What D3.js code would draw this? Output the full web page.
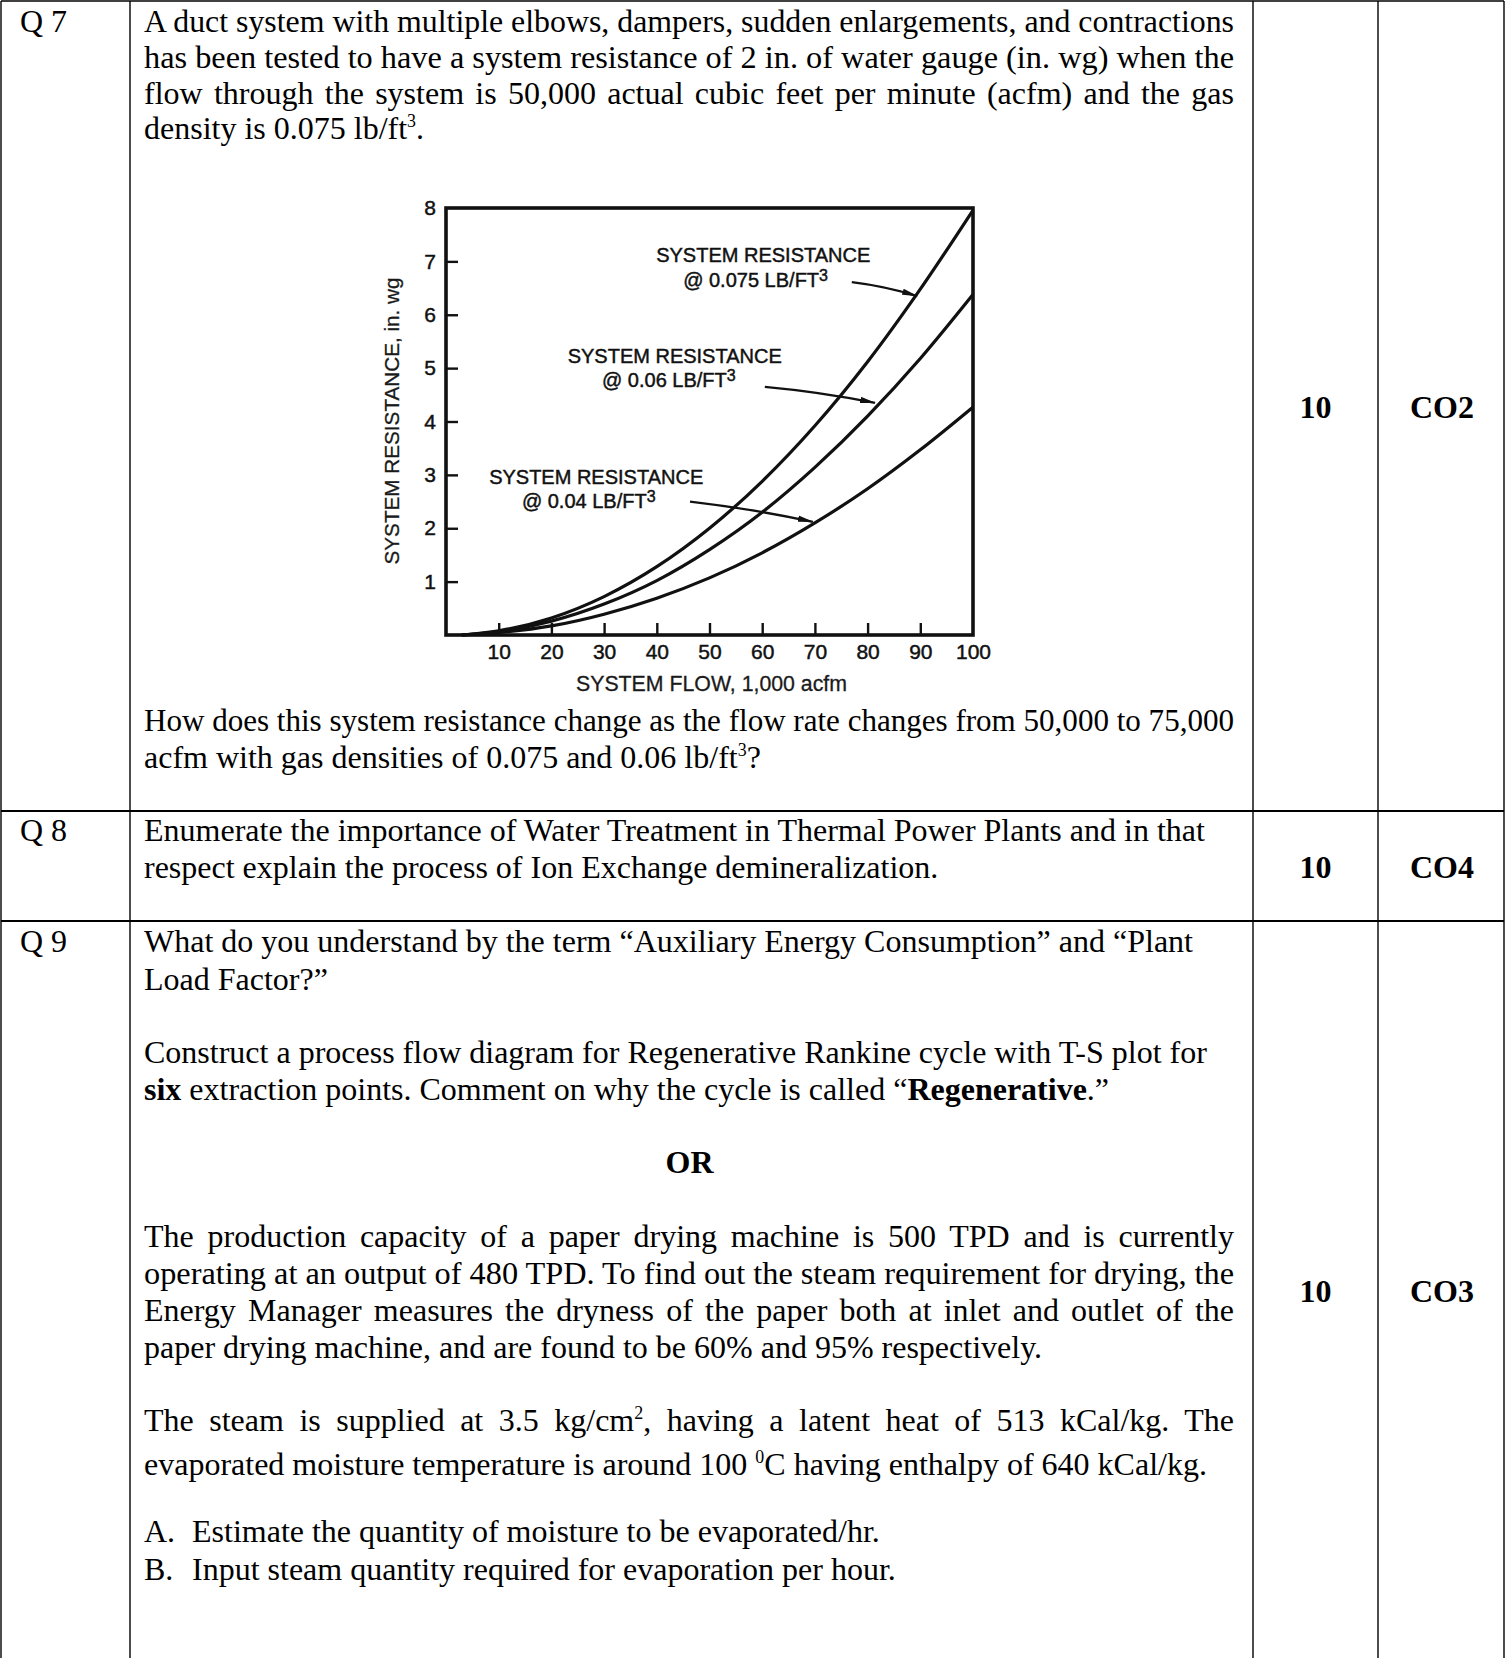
<!DOCTYPE html>
<html><head><meta charset="utf-8">
<script src="https://cdn.jsdelivr.net/npm/d3@7"></script>
<style>body{margin:0;background:#fff} svg{display:block}</style>
</head><body>
<script>
// ---------- chart data ----------
const flow   = [3, 10, 20, 30, 40, 50, 60, 70, 80, 90, 100];           // 1,000 acfm
const res075 = [0, 0.08, 0.32, 0.72, 1.28, 2.0, 2.88, 3.92, 5.12, 6.48, 7.96];
const res060 = [0, 0.065, 0.26, 0.58, 1.02, 1.6, 2.3, 3.14, 4.1, 5.18, 6.38];
const res040 = [0, 0.045, 0.17, 0.39, 0.69, 1.07, 1.54, 2.1, 2.74, 3.47, 4.27];
const xTickValues = [10, 20, 30, 40, 50, 60, 70, 80, 90, 100];
const yTickValues = [1, 2, 3, 4, 5, 6, 7, 8];
const xTitle = "SYSTEM FLOW, 1,000 acfm";
const yTitle = "SYSTEM RESISTANCE, in. wg";
// annotation: label position & arrow in data units
const annLine1 = ["SYSTEM RESISTANCE", "SYSTEM RESISTANCE", "SYSTEM RESISTANCE"];
const annLine2 = ["@ 0.075 LB/FT", "@ 0.06 LB/FT", "@ 0.04 LB/FT"];
const annL1X = [60.2, 43.4, 28.5], annL1Y = [6.99, 5.10, 2.83];
const annL2X = [45.0, 29.6, 14.4], annL2Y = [6.52, 4.65, 2.38];
const arrFromX = [77.0, 60.5, 46.3], arrFromY = [6.61, 4.65, 2.50];
const arrToX = [89.4, 81.4, 69.6],   arrToY = [6.35, 4.35, 2.12];

// ---------- page text ----------
const q7Lines = [
  {y: 32,  j: true,  s: "A duct system with multiple elbows, dampers, sudden enlargements, and contractions"},
  {y: 68,  j: true,  s: "has been tested to have a system resistance of 2 in. of water gauge (in. wg) when the"},
  {y: 104, j: true,  s: "flow through the system is 50,000 actual cubic feet per minute (acfm) and the gas"},
  {y: 139, j: false, s: "density is 0.075 lb/ft^{3}."},
  {y: 731, j: true,  s: "How does this system resistance change as the flow rate changes from 50,000 to 75,000"},
  {y: 768, j: false, s: "acfm with gas densities of 0.075 and 0.06 lb/ft^{3}?"}
];
const q8Lines = [
  {y: 841, j: false, s: "Enumerate the importance of Water Treatment in Thermal Power Plants and in that"},
  {y: 878, j: false, s: "respect explain the process of Ion Exchange demineralization."}
];
const q9Lines = [
  {y: 952,  j: false, s: "What do you understand by the term \u201CAuxiliary Energy Consumption\u201D and \u201CPlant"},
  {y: 990,  j: false, s: "Load Factor?\u201D"},
  {y: 1063, j: false, s: "Construct a process flow diagram for Regenerative Rankine cycle with T-S plot for"},
  {y: 1100, j: false, s: "**six** extraction points. Comment on why the cycle is called \u201C**Regenerative**.\u201D"},
  {y: 1247, j: true,  s: "The production capacity of a paper drying machine is 500 TPD and is currently"},
  {y: 1284, j: true,  s: "operating at an output of 480 TPD. To find out the steam requirement for drying, the"},
  {y: 1321, j: true,  s: "Energy Manager measures the dryness of the paper both at inlet and outlet of the"},
  {y: 1358, j: false, s: "paper drying machine, and are found to be 60% and 95% respectively."},
  {y: 1431, j: true,  s: "The steam is supplied at 3.5 kg/cm^{2}, having a latent heat of 513 kCal/kg. The"},
  {y: 1475, j: false, s: "evaporated moisture temperature is around 100 ^{0}C having enthalpy of 640 kCal/kg."}
];
const listItems = [
  {y: 1542, m: "A.", s: "Estimate the quantity of moisture to be evaporated/hr."},
  {y: 1580, m: "B.", s: "Input steam quantity required for evaporation per hour."}
];
const qLabels = [{y: 32, s: "Q 7"}, {y: 841, s: "Q 8"}, {y: 952, s: "Q 9"}];
const marks = [{y: 418, m: "10", c: "CO2"}, {y: 878, m: "10", c: "CO4"}, {y: 1302, m: "10", c: "CO3"}];

// ---------- layout ----------
const W = 1506, H = 1658;
const colX = [1, 130, 1253, 1378, 1504];
const rowY = [1, 811, 921];
const textL = 144, textR = 1234;
const serif = "'Liberation Serif','Times New Roman',Tinos,serif";
const sans = "'Liberation Sans',Arial,Helvetica,sans-serif";
const FS = 32;

const svg = d3.select("body").append("svg").attr("width", W).attr("height", H);

// table grid
const grid = svg.append("g").attr("stroke", "#000").attr("stroke-width", 1.4);
colX.forEach(x => grid.append("line").attr("x1", x).attr("x2", x).attr("y1", rowY[0]).attr("y2", H));
rowY.forEach((y, i) => grid.append("line").attr("x1", colX[0]).attr("x2", colX[4]).attr("y1", y).attr("y2", y)
  .attr("stroke-width", i === 0 ? 1.4 : 2));

// rich text line
function drawLine(x, y, str, justify, opts = {}) {
  const t = svg.append("text").attr("x", x).attr("y", y)
    .attr("font-family", serif).attr("font-size", FS).attr("fill", "#000")
    .attr("xml:space", "preserve");
  if (opts.bold) t.attr("font-weight", "bold");
  if (opts.anchor) t.attr("text-anchor", opts.anchor);
  const parts = str.split(/(\*\*.+?\*\*|\^\{.+?\})/).filter(p => p.length);
  let raised = false;
  parts.forEach(p => {
    if (p.startsWith("**")) {
      const sp = t.append("tspan").attr("font-weight", "bold").text(p.slice(2, -2));
      if (raised) { sp.attr("dy", 12); raised = false; }
    } else if (p.startsWith("^{")) {
      t.append("tspan").attr("font-size", FS * 0.56).attr("dy", -12).text(p.slice(2, -1));
      raised = true;
    } else {
      const sp = t.append("tspan").text(p);
      if (raised) { sp.attr("dy", 12); raised = false; }
    }
  });
  if (justify) {
    const plain = str.replace(/\*\*/g, "").replace(/\^\{(.+?)\}/g, "$1");
    const spaces = (plain.match(/ /g) || []).length;
    const len = t.node().getComputedTextLength();
    const target = textR - textL;
    if (len > target - spaces * 1) {
      // too long for normal justification: squeeze glyphs slightly
      t.attr("textLength", target).attr("lengthAdjust", "spacingAndGlyphs");
    } else if (spaces > 0) {
      t.style("word-spacing", ((target - len) / spaces) + "px");
    }
  }
  return t;
}

qLabels.forEach(q => drawLine(20, q.y, q.s, false));
[...q7Lines, ...q8Lines, ...q9Lines].forEach(l => drawLine(textL, l.y, l.s, l.j));
drawLine((colX[1] + colX[2]) / 2 - 2, 1173, "OR", false, {bold: true, anchor: "middle"});
listItems.forEach(l => { drawLine(textL, l.y, l.m, false); drawLine(192, l.y, l.s, false); });
marks.forEach(m => {
  drawLine((colX[2] + colX[3]) / 2, m.y, m.m, false, {bold: true, anchor: "middle"});
  drawLine((colX[3] + colX[4]) / 2 + 1, m.y, m.c, false, {bold: true, anchor: "middle"});
});

// ---------- chart ----------
const plot = {left: 446, right: 973, top: 208, bottom: 635};
const x = d3.scaleLinear().domain([0, 100]).range([plot.left, plot.right]);
const y = d3.scaleLinear().domain([0, 8]).range([plot.bottom, plot.top]);
const ink = "#111";
const cg = svg.append("g");

// inner ticks
const xAxis = d3.axisBottom(x).tickValues(xTickValues).tickSize(-12).tickPadding(9);
const yAxis = d3.axisLeft(y).tickValues(yTickValues).tickSize(-12).tickPadding(12);
const gx = cg.append("g").attr("transform", `translate(0,${plot.bottom})`).call(xAxis);
const gy = cg.append("g").attr("transform", `translate(${plot.left},0)`).call(yAxis);
[gx, gy].forEach(g => {
  g.select(".domain").remove();
  g.selectAll(".tick line").attr("stroke", ink).attr("stroke-width", 2.4);
  g.selectAll(".tick text").attr("font-family", sans).attr("font-size", 21).attr("fill", ink)
    .attr("stroke", ink).attr("stroke-width", 0.45);
});
gx.selectAll(".tick text").attr("dy", "0.71em").attr("x", 0);
gx.selectAll(".tick").filter(d => d === 100).select("line").remove();
gy.selectAll(".tick").filter(d => d === 8).select("line").remove();
gy.selectAll(".tick text").attr("text-anchor", "middle").attr("x", -16);

// frame
cg.append("rect").attr("x", plot.left).attr("y", plot.top)
  .attr("width", plot.right - plot.left).attr("height", plot.bottom - plot.top)
  .attr("fill", "none").attr("stroke", ink).attr("stroke-width", 3.6);

// curves
const line = d3.line().x(d => x(d[0])).y(d => y(d[1])).curve(d3.curveMonotoneX);
[res075, res060, res040].forEach(vals => {
  cg.append("path").datum(flow.map((f, i) => [f, vals[i]]))
    .attr("d", line).attr("fill", "none").attr("stroke", ink).attr("stroke-width", 3.2);
});

// axis titles
cg.append("text").attr("x", x(50) + 2).attr("y", 691).attr("text-anchor", "middle")
  .attr("font-family", sans).attr("font-size", 21.3).attr("fill", "#1a1a1a")
  .attr("stroke", "#1a1a1a").attr("stroke-width", 0.3).text(xTitle);
cg.append("text").attr("transform", "translate(399,421) rotate(-90)").attr("text-anchor", "middle")
  .attr("font-family", sans).attr("font-size", 20.7).attr("fill", "#1a1a1a")
  .attr("stroke", "#1a1a1a").attr("stroke-width", 0.3).text(yTitle);

// annotations
svg.append("defs").append("marker").attr("id", "ah").attr("markerUnits", "userSpaceOnUse")
  .attr("markerWidth", 16).attr("markerHeight", 8).attr("refX", 15).attr("refY", 4)
  .attr("orient", "auto").append("path").attr("d", "M0,0.8 L16,4 L0,7.2 Z").attr("fill", ink);
annLine1.forEach((l1, i) => {
  cg.append("text").attr("x", x(annL1X[i])).attr("y", y(annL1Y[i])).attr("text-anchor", "middle")
    .attr("font-family", sans).attr("font-size", 20).attr("fill", ink)
    .attr("stroke", ink).attr("stroke-width", 0.45).text(l1);
  const t2 = cg.append("text").attr("x", x(annL2X[i])).attr("y", y(annL2Y[i]))
    .attr("font-family", sans).attr("font-size", 20).attr("fill", ink)
    .attr("stroke", ink).attr("stroke-width", 0.45);
  t2.append("tspan").text(annLine2[i]);
  t2.append("tspan").attr("dy", -6).attr("font-size", 16).text("3");
  const x0 = x(arrFromX[i]), y0 = y(arrFromY[i]), x1 = x(arrToX[i]), y1 = y(arrToY[i]);
  const mx = (x0 + x1) / 2, my = (y0 + y1) / 2 - 3;
  cg.append("path").attr("d", `M${x0},${y0} Q${mx},${my} ${x1},${y1}`)
    .attr("fill", "none").attr("stroke", ink).attr("stroke-width", 2.3).attr("marker-end", "url(#ah)");
});
</script>
</body></html>
